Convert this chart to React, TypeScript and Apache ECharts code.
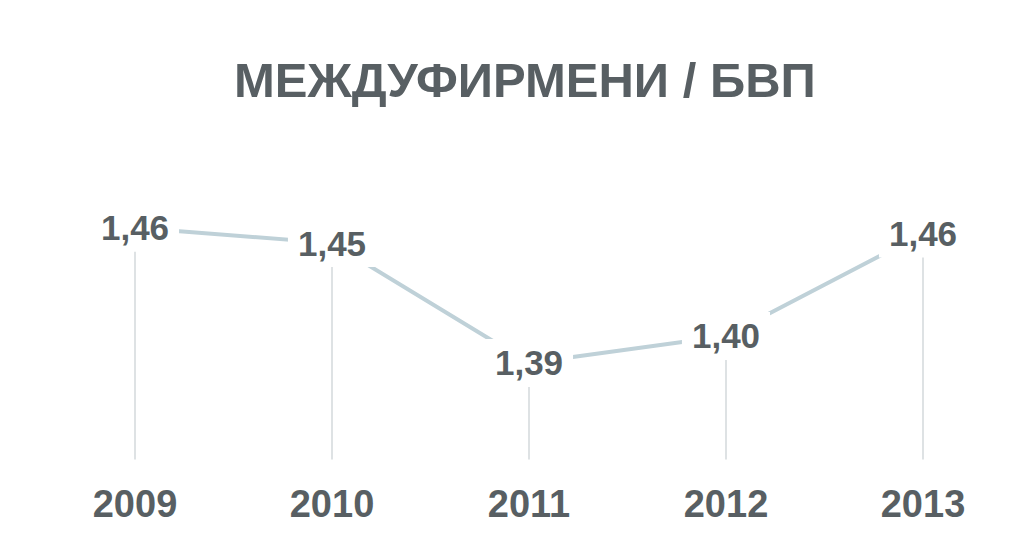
import React, { useEffect, useRef } from "react";
import * as echarts from "echarts";

const years = ["2009", "2010", "2011", "2012", "2013"];
const ratio = [1.46, 1.452, 1.39, 1.404, 1.457];
const titleText = "МЕЖДУФИРМЕНИ / БВП";

const TEXT = "#585f63";
const LINE = "#bfd1d8";
const STEM = "#d3d8db";
const FONT = "'Liberation Sans', Arial, sans-serif";
const Y_MIN = 1.34;
const Y_MAX = 1.48;

export default function App() {
  const ref = useRef<HTMLDivElement>(null);
  useEffect(() => {
    document.body.style.margin = "0";
    if (!ref.current) return;
    const chart = echarts.init(ref.current, undefined, { renderer: "svg" });
    chart.setOption({
      animation: false,
      backgroundColor: "#ffffff",
      title: {
        text: titleText,
        left: 229,
        top: 50,
        textStyle: { color: TEXT, fontSize: 49, fontWeight: "bold", fontFamily: FONT },
      },
      grid: { left: 135, right: 95, top: 189, bottom: 88.4, containLabel: false },
      xAxis: {
        type: "category",
        data: years,
        boundaryGap: false,
        axisLine: { show: false },
        axisTick: { show: false },
        splitLine: { show: false },
        axisLabel: {
          color: TEXT,
          fontSize: 38,
          fontWeight: "bold",
          fontFamily: FONT,
          margin: 25,
        },
      },
      yAxis: {
        type: "value",
        min: Y_MIN,
        max: Y_MAX,
        show: false,
        splitLine: { show: false },
      },
      series: [
        {
          type: "custom",
          z: 1,
          data: ratio.map((v, i) => [i, v]),
          renderItem: (params: any, api: any) => {
            const top = api.coord([api.value(0), api.value(1)]);
            const bottom = api.coord([api.value(0), Y_MIN]);
            return {
              type: "line",
              shape: { x1: top[0], y1: top[1], x2: bottom[0], y2: bottom[1] },
              style: { stroke: STEM, lineWidth: 1.5 },
            };
          },
        },
        {
          type: "line",
          z: 3,
          data: ratio,
          symbol: "circle",
          symbolSize: 2,
          itemStyle: { color: LINE },
          lineStyle: { color: LINE, width: 4 },
          label: {
            show: true,
            position: "inside",
            formatter: (p: any) => Number(p.value).toFixed(2).replace(".", ","),
            color: TEXT,
            fontSize: 35,
            fontWeight: "bold",
            fontFamily: FONT,
            lineHeight: 36,
            backgroundColor: "#ffffff",
            padding: [6, 10, 6, 10],
          },
        },
      ],
    });
    return () => chart.dispose();
  }, []);
  return <div ref={ref} style={{ width: 1018, height: 548 }} />;
}
